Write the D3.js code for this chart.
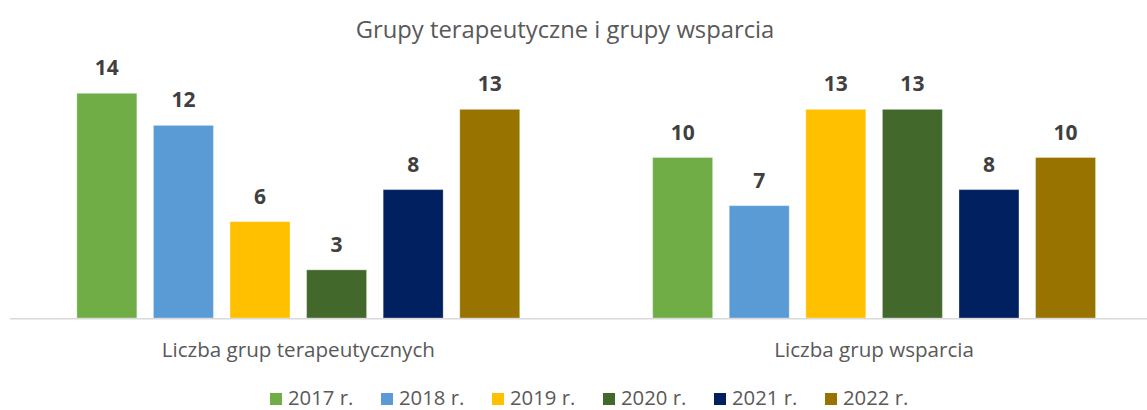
<!DOCTYPE html>
<html>
<head>
<meta charset="utf-8">
<script src="https://cdn.jsdelivr.net/npm/d3@7"></script>
<style>
  body { margin: 0; background: #fff; }
  text { font-family: "Open Sans", "Noto Sans", sans-serif; }
</style>
</head>
<body>
<script>
// chart data
const title = "Grupy terapeutyczne i grupy wsparcia"
const categories = ["Liczba grup terapeutycznych", "Liczba grup wsparcia"]
const years = ["2017 r.", "2018 r.", "2019 r.", "2020 r.", "2021 r.", "2022 r."]
const colors = ["#70AD47", "#5B9BD5", "#FFC000", "#43682B", "#002060", "#997300"]
const therapyValues = [14, 12, 6, 3, 8, 13]
const supportValues = [10, 7, 13, 13, 8, 10]

const width = 1147, height = 410
const baseline = 318

let svg = d3.select("body")
    .append("svg")
    .attr("width", width)
    .attr("height", height)

let rows = [therapyValues, supportValues]

let x0 = d3.scaleBand()
    .domain(categories)
    .range([10.4, 1162])

let x1 = d3.scaleBand()
    .domain(years)
    .range([0, x0.bandwidth()])
    .paddingInner(0.217)
    .paddingOuter(0.868)

let y = d3.scaleLinear()
    .domain([0, 16])
    .range([baseline, 61.2])

// title
svg.append("text")
    .attr("x", 565)
    .attr("y", 38)
    .attr("text-anchor", "middle")
    .attr("fill", "#595959")
    .style("font-size", "23.8px")
    .text(title)

// groups of bars
let groups = svg.selectAll("g.cat")
    .data(categories)
    .enter()
    .append("g")
    .attr("class", "cat")
    .attr("transform", function (d) { return "translate(" + x0(d) + ",0)" })

groups.selectAll("rect")
    .data(function (d, i) {
        return years.map(function (yr, j) { return {year: yr, value: rows[i][j], color: colors[j]} })
    })
    .enter()
    .append("rect")
    .attr("x", function (d) { return x1(d.year) })
    .attr("y", function (d) { return y(d.value) })
    .attr("width", x1.bandwidth())
    .attr("height", function (d) { return y(0) - y(d.value) })
    .attr("fill", function (d) { return d.color })
    .attr("stroke", "#ffffff")
    .attr("stroke-opacity", 0.3)
    .attr("stroke-width", 1)

groups.selectAll("text.val")
    .data(function (d, i) {
        return years.map(function (yr, j) { return {year: yr, value: rows[i][j]} })
    })
    .enter()
    .append("text")
    .attr("class", "val")
    .attr("x", function (d) { return x1(d.year) + x1.bandwidth() / 2 })
    .attr("y", function (d) { return y(d.value) - 18 })
    .attr("text-anchor", "middle")
    .attr("fill", "#404040")
    .style("font-size", "21px")
    .style("font-weight", "bold")
    .text(function (d) { return d.value })

// axis line and category labels
let xAxis = d3.axisBottom(x0).tickSize(0).tickPadding(24)
let axisG = svg.append("g")
    .attr("transform", "translate(0," + (baseline + 0.8) + ")")
    .call(xAxis)
axisG.select(".domain").remove()
axisG.append("line")
    .attr("x1", 10).attr("x2", width)
    .attr("stroke", "#d9d9d9").attr("stroke-width", 1.5)
axisG.selectAll(".tick text")
    .attr("fill", "#595959")
    .style("font-size", "20.6px")
    .style("font-family", "'Open Sans', sans-serif")

// legend
let legendX = d3.scalePoint()
    .domain(years)
    .range([270, 825])

let legend = svg.selectAll("g.leg")
    .data(years)
    .enter()
    .append("g")
    .attr("class", "leg")
    .attr("transform", function (d) { return "translate(" + legendX(d) + ",393)" })

legend.append("rect")
    .attr("width", 12).attr("height", 12)
    .attr("fill", function (d, i) { return colors[i] })

legend.append("text")
    .attr("x", 18)
    .attr("y", 12)
    .attr("fill", "#595959")
    .style("font-size", "20.3px")
    .text(function (d) { return d })
</script>
</body>
</html>
